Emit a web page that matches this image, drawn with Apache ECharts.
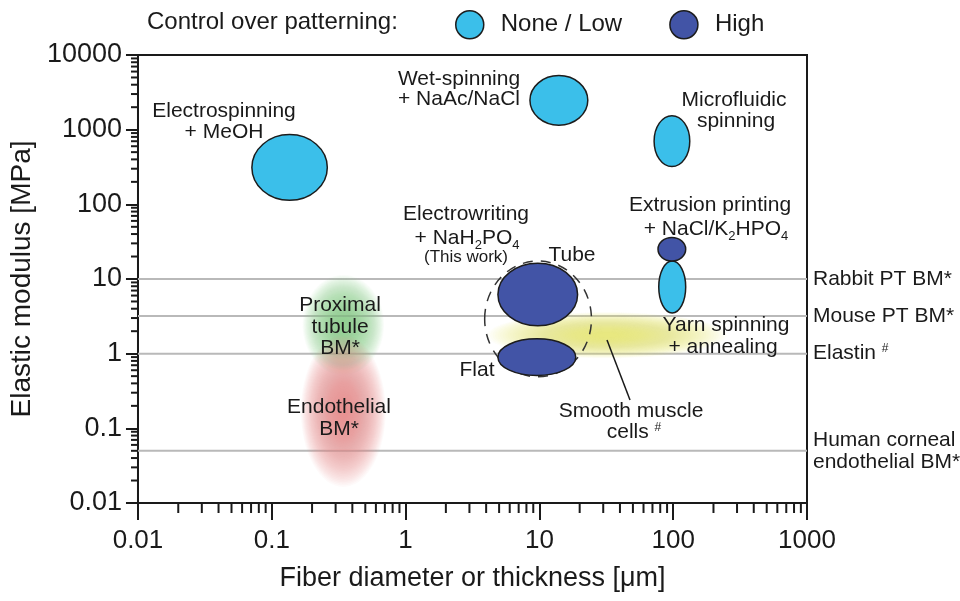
<!DOCTYPE html>
<html><head><meta charset="utf-8">
<script src="https://cdn.jsdelivr.net/npm/echarts@6/dist/echarts.min.js"></script>
<style>html,body{margin:0;padding:0;background:#fff}#c{width:960px;height:601px}</style>
</head><body><div id="c"></div>
<script>
// ---------------- data ----------------
const xTickLabels = ['0.01', '0.1', '1', '10', '100', '1000'];
const yTickLabels = ['0.01', '0.1', '1', '10', '100', '1000', '10000'];

// None / Low patterning control: [diameter low, diameter high] µm, [modulus low, modulus high] MPa
const lowNames    = ['Electrospinning + MeOH', 'Wet-spinning + NaAc/NaCl', 'Microfluidic spinning', 'Extrusion printing + NaCl/K2HPO4 (low)'];
const lowDiameter = [[0.071, 0.26], [8.5, 23], [72, 133], [78, 124]];
const lowModulus  = [[113, 860], [1150, 5300], [320, 1540], [3.5, 17.4]];

// High patterning control
const highNames    = ['Electrowriting tube', 'Electrowriting flat', 'Extrusion printing + NaCl/K2HPO4 (high)'];
const highDiameter = [[4.9, 19.3], [4.9, 18.7], [77, 124]];
const highModulus  = [[2.36, 16.3], [0.51, 1.58], [17.4, 36]];

// This work envelope (dashed)
const thisWorkDiameter = [3.9, 24.5];
const thisWorkModulus  = [0.49, 17.4];

// Tissue ranges (soft blobs)
const tissueNames    = ['Proximal tubule BM*', 'Endothelial BM*', 'Smooth muscle cells #'];
const tissueDiameter = [[0.17, 0.69], [0.165, 0.71], [4.1, 250]];
const tissueModulus  = [[0.52, 11.3], [0.0164, 1.77], [0.87, 3.6]];

// Reference moduli (horizontal lines)
const refNames   = ['Rabbit PT BM*', 'Mouse PT BM*', 'Elastin {sup|#}', 'Human corneal\nendothelial BM*'];
const refModulus = [10, 3.2, 1, 0.05];

// ---------------- styles ----------------
const FONT = '"Liberation Sans", Arial, Helvetica, sans-serif';
const INK = '#1a1a1a';
const STROKE = '#1c1c1c';
const LOW_COLOR = '#3bbfea';
const HIGH_COLOR = '#4254a6';
const TISSUE_COLORS = ['#82cc96', '#f3858d', '#e4e17c'];

const X_MIN = +xTickLabels[0], X_MAX = +xTickLabels[xTickLabels.length - 1];
const Y_MIN = +yTickLabels[0], Y_MAX = +yTickLabels[yTickLabels.length - 1];

function toRanges(d, m) { return d.map((r, i) => [r[0], r[1], m[i][0], m[i][1]]); }

function box(api) {
  const p1 = api.coord([api.value(0), api.value(3)]);
  const p2 = api.coord([api.value(1), api.value(2)]);
  return { cx: (p1[0] + p2[0]) / 2, cy: (p1[1] + p2[1]) / 2, rx: Math.abs(p2[0] - p1[0]) / 2, ry: Math.abs(p2[1] - p1[1]) / 2 };
}
function solidEllipse(color) {
  return function (params, api) {
    return { type: 'ellipse', shape: box(api), style: { fill: color, stroke: STROKE, lineWidth: 1.5 } };
  };
}
function dashedEllipse(params, api) {
  return { type: 'ellipse', shape: box(api), style: { fill: null, stroke: '#333', lineWidth: 1.5, lineDash: [10, 8] } };
}
function blob(params, api) {
  const b = box(api);
  const color = TISSUE_COLORS[params.dataIndex];
  const children = [];
  const N = 44;
  for (let i = 0; i < N; i++) {
    const s = 1 - i * (0.9 / (N - 1));
    children.push({ type: 'ellipse', shape: { cx: b.cx, cy: b.cy, rx: b.rx * s, ry: b.ry * s },
      style: { fill: color, opacity: 0.042, blend: 'multiply' } });
  }
  return { type: 'group', children };
}
function refLine(params, api) {
  const v = api.value(1);
  const a = api.coord([X_MIN, v]);
  const b = api.coord([X_MAX, v]);
  return { type: 'group', children: [
    { type: 'line', shape: { x1: a[0], y1: a[1], x2: b[0], y2: b[1] }, style: { stroke: '#b9b9b9', lineWidth: 2 } },
    { type: 'text', x: b[0] + 6, y: b[1], style: { text: refNames[params.dataIndex], fill: INK, fontSize: 21, fontFamily: FONT,
      lineHeight: 22, align: 'left', verticalAlign: 'middle',
      rich: { sup: { fontSize: 12, fontFamily: FONT, verticalAlign: 'top', fill: INK } } } }
  ] };
}

// minor ticks for log axes (2..9 per decade)
const xMinor = [], yMinor = [];
for (let e = -2; e < 3; e++) for (let m = 2; m <= 9; m++) xMinor.push([+(m * Math.pow(10, e)).toPrecision(3), Y_MIN]);
for (let e = -2; e < 4; e++) for (let m = 2; m <= 9; m++) yMinor.push([X_MIN, +(m * Math.pow(10, e)).toPrecision(3)]);
function xMinorTick(params, api) {
  const p = api.coord([api.value(0), api.value(1)]);
  return { type: 'line', shape: { x1: p[0], y1: p[1], x2: p[0], y2: p[1] + 10 }, style: { stroke: INK, lineWidth: 2 } };
}
function yMinorTick(params, api) {
  const p = api.coord([api.value(0), api.value(1)]);
  return { type: 'line', shape: { x1: p[0] - 7, y1: p[1], x2: p[0], y2: p[1] }, style: { stroke: INK, lineWidth: 2 } };
}

function txt(x, y, text, size, extra) {
  return Object.assign({ type: 'text', x: x, y: y, z: 100, silent: true,
    style: { text: text, fill: INK, fontSize: size || 21, fontFamily: FONT, align: 'center', verticalAlign: 'middle',
      textAlign: 'center', textVerticalAlign: 'middle',
      rich: { sub: { fontSize: 13, fontFamily: FONT, fill: INK, verticalAlign: 'bottom', lineHeight: 28 },
              sup: { fontSize: 12, fontFamily: FONT, fill: INK, verticalAlign: 'top' } } } }, extra || {});
}

const chart = echarts.init(document.getElementById('c'), null, { renderer: 'canvas' });
chart.setOption({
  backgroundColor: '#fff',
  animation: false,
  textStyle: { fontFamily: FONT },
  grid: { left: 132, right: 153, top: 55, bottom: 98, show: true, borderColor: INK, borderWidth: 2, backgroundColor: 'transparent' },
  legend: {
    left: 450, top: 5, itemWidth: 28, itemHeight: 30, itemGap: 47, selectedMode: false,
    textStyle: { fontSize: 24, fontFamily: FONT, color: INK, padding: [0, 0, 0, 12] },
    data: [
      { name: 'None / Low', icon: 'circle', itemStyle: { color: LOW_COLOR, borderColor: STROKE, borderWidth: 1.5 } },
      { name: 'High', icon: 'circle', itemStyle: { color: HIGH_COLOR, borderColor: STROKE, borderWidth: 1.5 } }
    ]
  },
  xAxis: {
    type: 'log', logBase: 10, min: X_MIN, max: X_MAX, splitNumber: 5,
    name: 'Fiber diameter or thickness [μm]', nameLocation: 'middle', nameGap: 62,
    nameTextStyle: { fontSize: 27, color: INK, fontFamily: FONT },
    axisLine: { lineStyle: { color: INK, width: 2 } },
    axisTick: { length: 17, lineStyle: { color: INK, width: 2 } },
    axisLabel: { fontSize: 26, color: INK, margin: 25, fontFamily: FONT, formatter: (v) => xTickLabels.find(t => Math.abs(+t - v) < +t * 1e-6) || '' },
    splitLine: { show: false }
  },
  yAxis: {
    type: 'log', logBase: 10, min: Y_MIN, max: Y_MAX, splitNumber: 6,
    name: 'Elastic modulus [MPa]', nameLocation: 'middle', nameGap: 95,
    nameTextStyle: { fontSize: 28, color: INK, fontFamily: FONT },
    axisLine: { lineStyle: { color: INK, width: 2 } },
    axisTick: { length: 12, lineStyle: { color: INK, width: 2 } },
    axisLabel: { fontSize: 27, color: INK, margin: 16, fontFamily: FONT, formatter: (v) => yTickLabels.find(t => Math.abs(+t - v) < +t * 1e-6) || '' },
    splitLine: { show: false }
  },
  series: [
    { type: 'custom', name: 'refs', z: 1, silent: true, renderItem: refLine, encode: { x: 0, y: 1 },
      data: refModulus.map(v => [X_MIN, v]) },
    { type: 'custom', name: 'tissues', z: 2, silent: true, renderItem: blob, encode: { x: [0, 1], y: [2, 3] },
      data: toRanges(tissueDiameter, tissueModulus) },
    { type: 'custom', name: 'This work', z: 3, silent: true, renderItem: dashedEllipse, encode: { x: [0, 1], y: [2, 3] },
      data: [[thisWorkDiameter[0], thisWorkDiameter[1], thisWorkModulus[0], thisWorkModulus[1]]] },
    { type: 'custom', name: 'None / Low', z: 4, silent: true, renderItem: solidEllipse(LOW_COLOR), encode: { x: [0, 1], y: [2, 3] },
      itemStyle: { color: LOW_COLOR }, data: toRanges(lowDiameter, lowModulus) },
    { type: 'custom', name: 'High', z: 4, silent: true, renderItem: solidEllipse(HIGH_COLOR), encode: { x: [0, 1], y: [2, 3] },
      itemStyle: { color: HIGH_COLOR }, data: toRanges(highDiameter, highModulus) },
    { type: 'custom', name: 'xMinor', z: 5, silent: true, renderItem: xMinorTick, encode: { x: 0, y: 1 }, data: xMinor },
    { type: 'custom', name: 'yMinor', z: 5, silent: true, renderItem: yMinorTick, encode: { x: 0, y: 1 }, data: yMinor }
  ],
  graphic: [
    txt(147, 22, 'Control over patterning:', 24, { style: { text: 'Control over patterning:', fill: INK, fontSize: 24, fontFamily: FONT, align: 'left', verticalAlign: 'middle', textAlign: 'left', textVerticalAlign: 'middle' } }),
    txt(224, 111, 'Electrospinning'),
    txt(224, 132, '+ MeOH'),
    txt(459, 79, 'Wet-spinning'),
    txt(459, 99, '+ NaAc/NaCl'),
    txt(734, 100, 'Microfluidic'),
    txt(736, 121, 'spinning'),
    txt(710, 205, 'Extrusion printing'),
    txt(716, 229, '+ NaCl/K{sub|2}HPO{sub|4}'),
    txt(466, 214, 'Electrowriting'),
    txt(467, 238, '+ NaH{sub|2}PO{sub|4}'),
    txt(466, 257, '(This work)', 17),
    txt(572, 255, 'Tube'),
    txt(477, 370, 'Flat'),
    txt(726, 325, 'Yarn spinning'),
    txt(723, 347, '+ annealing'),
    txt(631, 411, 'Smooth muscle'),
    txt(634, 432, 'cells {sup|#}'),
    txt(340, 305, 'Proximal'),
    txt(340, 327, 'tubule'),
    txt(340, 348, 'BM*'),
    txt(339, 407, 'Endothelial'),
    txt(339, 429, 'BM*'),
    { type: 'line', z: 100, silent: true, shape: { x1: 607, y1: 340, x2: 630, y2: 400 }, style: { stroke: INK, lineWidth: 1.5 } }
  ]
});
</script></body></html>
